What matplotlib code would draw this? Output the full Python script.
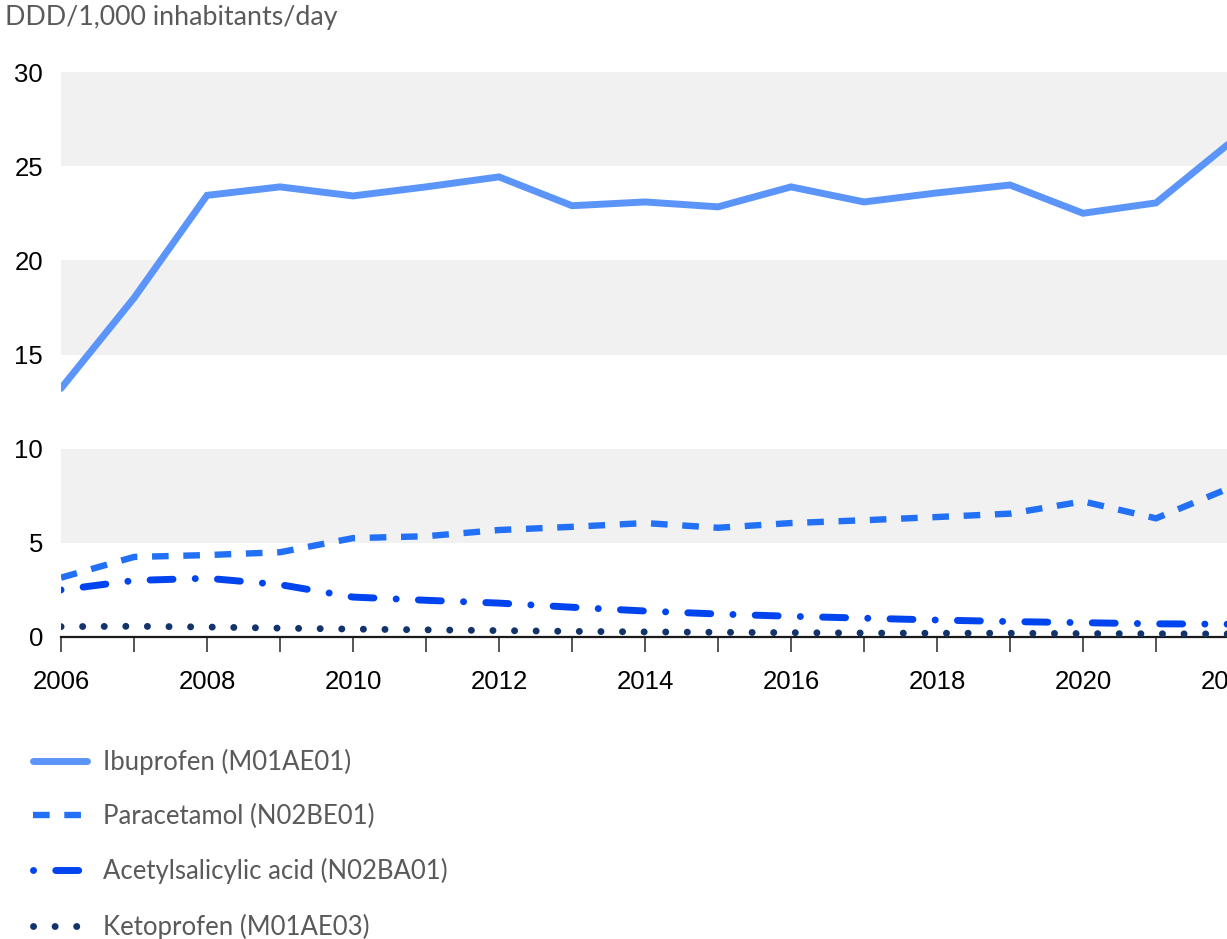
import matplotlib
matplotlib.use("Agg")
import matplotlib.pyplot as plt

years = list(range(2006, 2023))

ibuprofen = [13.2, 18.0, 23.45, 23.9, 23.42, 23.9, 24.43, 22.9, 23.1, 22.84,
             23.9, 23.1, 23.58, 24.0, 22.5, 23.05, 26.2]
paracetamol = [3.15, 4.25, 4.35, 4.5, 5.25, 5.35, 5.68, 5.85, 6.05, 5.8,
               6.05, 6.2, 6.37, 6.55, 7.2, 6.3, 7.9]
acetylsalicylic = [2.5, 3.0, 3.12, 2.78, 2.12, 1.95, 1.8, 1.58, 1.38, 1.22,
                   1.1, 1.0, 0.9, 0.82, 0.76, 0.7, 0.68]
ketoprofen = [0.55, 0.57, 0.53, 0.47, 0.42, 0.38, 0.34, 0.3, 0.27, 0.25,
              0.23, 0.21, 0.2, 0.2, 0.18, 0.17, 0.16]

labels = ["Ibuprofen (M01AE01)", "Paracetamol (N02BE01)",
          "Acetylsalicylic acid (N02BA01)", "Ketoprofen (M01AE03)"]
y_ticks = [0, 5, 10, 15, 20, 25, 30]
x_label_years = list(range(2006, 2023, 2))
bands = [(5, 10), (15, 20), (25, 30)]

W, H = 1227, 939
fig = plt.figure(figsize=(W / 100, H / 100), dpi=100)
ax = fig.add_axes([61 / W, 302 / H, 1168 / W, 565 / H])

for lo, hi in bands:
    ax.axhspan(lo, hi, color="#F0F1F0", zorder=0, lw=0)

lw = 5.0
ax.plot(years, ibuprofen, color="#5B95F9", lw=lw, solid_capstyle="round",
        solid_joinstyle="miter", label=labels[0], zorder=3)
ax.plot(years, paracetamol, color="#2270F5", lw=4.6, dash_capstyle="butt",
        dashes=(2.6, 2.3), label=labels[1], zorder=3)
ax.plot(years, acetylsalicylic, color="#0044F0", lw=lw, dash_capstyle="round",
        dashes=(0.01, 3.2, 3.3, 3.2), label=labels[2], zorder=3)
ax.plot(years, ketoprofen, color="#12336B", lw=lw, dash_capstyle="round",
        dashes=(0.01, 3.1), label=labels[3], zorder=3)

ax.set_xlim(2006, 2022)
ax.set_ylim(0, 30)

for s in ["top", "right", "left"]:
    ax.spines[s].set_visible(False)
ax.spines["bottom"].set_color("#1a1a1a")
ax.spines["bottom"].set_linewidth(1.6)

tick_font = dict(family="Liberation Sans", size=18.5)
ax.set_yticks(y_ticks)
ax.set_yticklabels([str(v) for v in y_ticks], **tick_font)
ax.tick_params(axis="y", length=0, pad=13, colors="black")

ax.set_xticks(years, minor=True)
ax.set_xticks(x_label_years)
ax.set_xticklabels([str(v) for v in x_label_years], **tick_font)
ax.tick_params(axis="x", which="both", length=11, width=1.4, color="#555555",
               direction="out", pad=13, labelcolor="black")
ax.set_facecolor("white")

fig.text(5 / W, 1 - 18 / H, "DDD/1,000 inhabitants/day", family="Lato",
         size=19.3, color="#5a5a5a", va="center", ha="left")

leg = fig.legend(loc="upper left", bbox_to_anchor=(33 / W, 1 - 749 / H),
                 frameon=False, borderpad=0, borderaxespad=0,
                 handlelength=2.12, handletextpad=0.6, labelspacing=1.13,
                 prop=dict(family="Lato", size=18.5))
for t in leg.get_texts():
    t.set_color("#5a5a5a")

fig.savefig("out.png", dpi=100, facecolor="white")
